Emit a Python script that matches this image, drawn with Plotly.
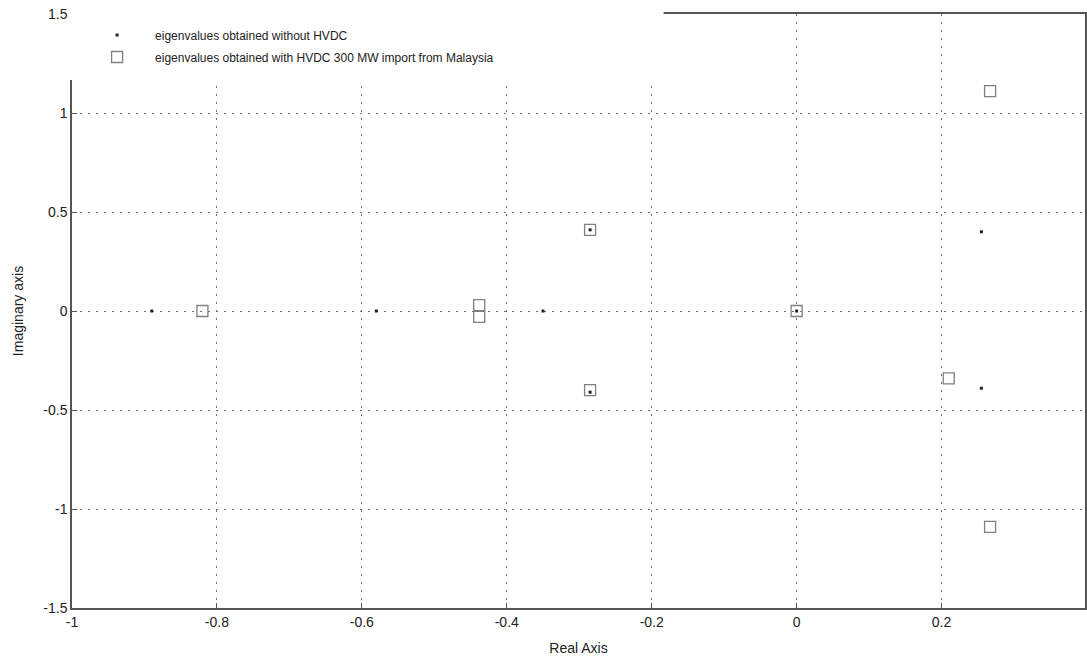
import plotly.graph_objects as go

# Eigenvalues without HVDC (dots)
re_without = [-0.89, -0.58, -0.35, -0.285, -0.285, 0.0, 0.255, 0.255]
im_without = [0.0, 0.0, 0.0, 0.41, -0.41, 0.0, 0.40, -0.39]

# Eigenvalues with HVDC 300 MW import from Malaysia (squares)
re_with = [-0.82, -0.438, -0.438, -0.285, -0.285, 0.0, 0.21, 0.267, 0.267]
im_with = [0.0, 0.03, -0.03, 0.41, -0.40, 0.0, -0.34, 1.11, -1.09]

x_ticks = [-1, -0.8, -0.6, -0.4, -0.2, 0, 0.2]
y_ticks = [-1.5, -1, -0.5, 0, 0.5, 1, 1.5]

FONT = "Liberation Sans, Arial, sans-serif"

fig = go.Figure()
fig.add_trace(go.Scatter(
    x=re_without, y=im_without, mode="markers",
    name="eigenvalues obtained without HVDC",
    marker=dict(symbol="square", size=3, color="#222222"),
    legend="legend",
))
fig.add_trace(go.Scatter(
    x=re_with, y=im_with, mode="markers",
    name="eigenvalues obtained with HVDC 300 MW import from Malaysia",
    marker=dict(symbol="square-open", size=11, color="#808080", line=dict(width=1.3)),
    legend="legend2",
))

axis_common = dict(
    showline=True, linecolor="#555555", linewidth=1.5, mirror=True,
    ticks="inside", ticklen=5, tickcolor="#555555",
    showgrid=True, gridcolor="#707070", gridwidth=1.3, griddash="2px,6px",
    zeroline=False,
    tickfont=dict(family=FONT, size=14, color="#222222"),
)

fig.update_xaxes(
    range=[-1, 0.398], tickvals=x_ticks,
    ticktext=[str(v) for v in x_ticks],
    title=dict(text="Real Axis", font=dict(family=FONT, size=14, color="#222222"), standoff=15),
    **axis_common,
)
fig.update_yaxes(
    range=[-1.5, 1.5], tickvals=y_ticks,
    ticktext=[str(v) for v in y_ticks],
    title=dict(text="Imaginary axis", font=dict(family=FONT, size=14, color="#222222"), standoff=16),
    **axis_common,
)

# white legend box that hides the top-left part of the axes frame
fig.add_shape(type="rect", xref="paper", yref="paper",
              x0=-0.004, x1=0.584, y0=0.889, y1=1.05,
              fillcolor="white", line=dict(width=0), layer="above")

legend_common = dict(
    xanchor="left", yanchor="middle",
    bgcolor="rgba(0,0,0,0)", borderwidth=0,
    font=dict(family=FONT, size=12, color="#222222"),
    itemwidth=66,
)

fig.update_layout(
    width=1087, height=662,
    margin=dict(l=72, r=0, t=14, b=54),
    paper_bgcolor="white", plot_bgcolor="white",
    font=dict(family=FONT, size=12, color="#222222"),
    legend=dict(x=0.007, y=0.9646, **legend_common),
    legend2=dict(x=0.007, y=0.9276, **legend_common),
    showlegend=True,
)

fig.write_html("out.html")
